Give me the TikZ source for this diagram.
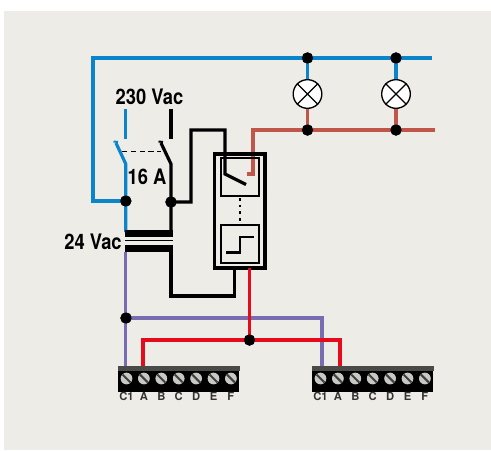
\documentclass[tikz,border=0pt]{standalone}
\usepackage{fontspec}
\setmainfont[FakeStretch=0.86]{TeX Gyre Heros}
\newfontfamily\termfont{TeX Gyre Heros}
\definecolor{bgc}{HTML}{EDECE7}
\definecolor{bluew}{HTML}{0A85CC}
\definecolor{brownw}{HTML}{C0554A}
\definecolor{purplew}{HTML}{7B6BB0}
\definecolor{redw}{HTML}{E30B1C}
\definecolor{bardark}{HTML}{4A4A48}
\definecolor{screwc}{HTML}{C8C8C4}
\tikzset{
  wire/.style={line width=2.4pt,line cap=butt,line join=miter},
  jn/.style={circle,fill=black,inner sep=0pt,minimum size=8.5pt},
  lamp/.style={circle,draw=black,fill=white,line width=1pt,inner sep=0pt,minimum size=21.5pt},
  biglabel/.style={font=\bfseries\fontsize{16}{16}\selectfont,text=black,inner sep=0pt},
  termlabel/.style={font=\termfont\bfseries\fontsize{8.4}{9}\selectfont,text=black!80,inner sep=0pt},
  thinbox/.style={draw=black,line width=1pt},
}
\newcommand{\termblock}[2]{% #1 left x, #2 name prefix
  \begin{scope}[shift={(#1,0)}]
    \fill[black] (0,370) rectangle (121,392);
    \fill[bardark] (0,366) rectangle (122,370.5);
    \foreach \i/\t in {0/C1,1/A,2/B,3/C,4/D,5/E,6/F}{
      \pgfmathsetmacro{\xx}{8.5+17.4*\i}
      \node[circle,fill=screwc,inner sep=0pt,minimum size=8.8pt] (#2s\i) at (\xx,378.5) {};
      \draw[black!75,line width=1.5pt] (\xx-4,374.5) -- (\xx+4,382.5);
      \node[termlabel] (#2l\i) at (\xx,396) {\t};
    }
  \end{scope}
}
\begin{document}
\begin{tikzpicture}[x=0.75pt,y=-0.75pt]
\useasboundingbox (0,0) rectangle (491,450);
\fill[white] (0,0) rectangle (491,450);
\fill[bgc] (4,11) rectangle (491,450);

\node[lamp] (L1) at (307.5,94) {};
\node[lamp] (L2) at (396,94) {};
\coordinate (BE) at (432,58);
\coordinate (RE) at (435,130);
\node[jn] (jb1) at (307.5,58) {};
\node[jn] (jb2) at (396,58) {};
\node[jn] (jr1) at (307.5,130) {};
\node[jn] (jr2) at (396,130) {};
\node[jn] (jsw1) at (125.8,201) {};
\node[jn] (jsw2) at (171,202) {};
\node[jn] (jp) at (126,318) {};
\node[jn] (jred) at (249.5,340) {};

% wires
\draw[wire,bluew] (BE) -- (93,58) -- (93,201) -- (jsw1.center);
\draw[wire,bluew] (jb1.center) -- (L1);
\draw[wire,bluew] (jb2.center) -- (L2);
\draw[wire,brownw] (RE) -- (253,130) -- (253,174) -- (247,174);
\draw[wire,brownw] (jr1.center) -- (L1);
\draw[wire,brownw] (jr2.center) -- (L2);
% switch
\draw[wire,bluew] (125.5,109) -- (125.5,139);
\draw[wire,black] (171,109) -- (171,139);
\draw[wire,bluew] (125.8,232) -- (125.8,164) -- (116,143);
\draw[bluew,line width=1.5pt] (113.5,141.5) -- (118,142);
\draw[wire,black] (171,232) -- (171,164) -- (161,143);
\draw[black,line width=1.5pt] (158.5,141.5) -- (163,142);
\draw[black,line width=0.9pt,dash pattern=on 4pt off 2.6pt] (122,151.5) -- (161,151.5);
% device
\draw[wire,black] (jsw2.center) -- (191,202) -- (191,130) -- (225,130) -- (225,174) -- (246,184.5);
\draw[black,line width=2.4pt] (214.5,154) rectangle (265,268);
\draw[thinbox] (221,158) rectangle (259,196);
\draw[thinbox] (221,225) rectangle (259,263);
\draw[black,line width=2pt,dash pattern=on 2pt off 3pt] (240,198) -- (240,224);
\draw[black,line width=2pt] (226,252.5) -- (240,252.5) -- (240,237) -- (254,237);
% transformer
\fill[black] (125,230) rectangle (172.5,237);
\fill[black] (125,245) rectangle (172.5,252);
\draw[black,line width=1.4pt] (125,240.5) -- (172.5,240.5);
% lower wires
\draw[wire,purplew] (125.8,252) -- (125.8,368);
\draw[wire,purplew] (jp.center) -- (322,318) -- (322,368);
\draw[wire,black] (171,252) -- (171,296) -- (234.5,296) -- (234.5,268);
\draw[wire,redw] (249.5,268) -- (249.5,340);
\draw[wire,redw] (143,368) -- (143,340) -- (340,340) -- (340,368);
% junction dots above wires
\foreach \n in {jb1,jb2,jr1,jr2,jsw1,jsw2,jp,jred}{\fill[black] (\n) circle (4.2pt);}
% lamp crosses
\draw[black,line width=1pt] (L1.45) -- (L1.225) (L1.135) -- (L1.315);
\draw[black,line width=1pt] (L2.45) -- (L2.225) (L2.135) -- (L2.315);
% labels
\node[biglabel] (t230) at (149.5,96.5) {230 Vac};
\node[biglabel] (t16) at (147,177) {16 A};
\node[biglabel] (t24) at (93,242) {24 Vac};
% terminal blocks
\termblock{118}{ta}
\termblock{312}{tb}
\end{tikzpicture}
\end{document}
